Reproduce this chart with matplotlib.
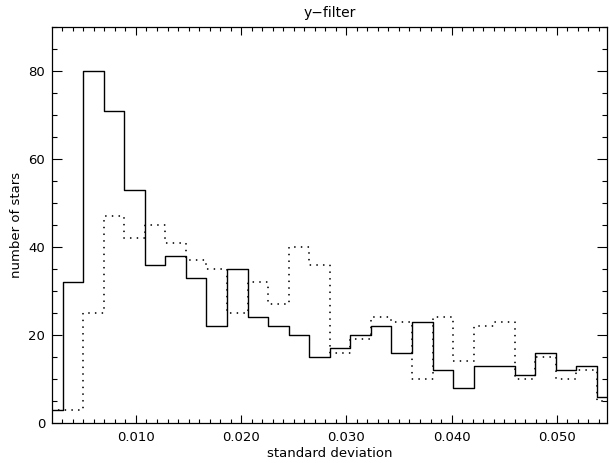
import numpy as np
import matplotlib.pyplot as plt
from matplotlib.ticker import MultipleLocator, FormatStrFormatter

# bin centres (standard deviation)
sigma = [0.00205, 0.00400, 0.00596, 0.00791, 0.00986, 0.01182, 0.01377,
         0.01573, 0.01768, 0.01963, 0.02159, 0.02354, 0.02549, 0.02745,
         0.02940, 0.03136, 0.03331, 0.03526, 0.03722, 0.03917, 0.04112,
         0.04308, 0.04503, 0.04698, 0.04894, 0.05089, 0.05285, 0.05480]

# solid histogram
n_solid = [3, 32, 80, 71, 53, 36, 38, 33, 22, 35, 24, 22, 20, 15,
           17, 20, 22, 16, 23, 12, 8, 13, 13, 11, 16, 12, 13, 6]

# dotted histogram
n_dotted = [3, 3, 25, 47, 42, 45, 41, 37, 35, 25, 32, 27, 40, 36,
            16, 19, 24, 23, 10, 24, 14, 22, 23, 10, 15, 10, 12, 5]

plt.rcParams['font.family'] = ['DejaVu Sans']

fig = plt.figure(figsize=(6.09, 4.63), dpi=100)
ax = fig.add_axes([52.3 / 609, 40 / 463, 555 / 609, 396 / 463])

ax.step(sigma, n_solid, where='mid', color='black', lw=1.0)
ax.step(sigma, n_dotted, where='mid', color='black', lw=1.3,
        linestyle=(0, (0.01, 3.7)), dash_capstyle='round')

ax.set_xlim(sigma[0], sigma[-1])
ax.set_ylim(0, 90)

ax.xaxis.set_major_locator(MultipleLocator(0.010))
ax.xaxis.set_minor_locator(MultipleLocator(0.001))
ax.xaxis.set_major_formatter(FormatStrFormatter('%.3f'))
ax.yaxis.set_major_locator(MultipleLocator(20))
ax.yaxis.set_minor_locator(MultipleLocator(5))

ax.tick_params(axis='x', which='major', direction='in', length=5.8, width=0.8,
               top=True, bottom=True, labelsize=9.5, pad=6)
ax.tick_params(axis='x', which='minor', direction='in', length=2.9, width=0.8,
               top=True, bottom=True)
ax.tick_params(axis='y', which='major', direction='in', length=7.5, width=0.8,
               left=True, right=True, labelsize=9.5, pad=5)
ax.tick_params(axis='y', which='minor', direction='in', length=3.7, width=0.8,
               left=True, right=True)
for s in ax.spines.values():
    s.set_linewidth(0.9)

ax.set_title('y\u2212filter', fontsize=10, pad=7)
ax.set_xlabel('standard deviation', fontsize=9.5, labelpad=2)
ax.set_ylabel('number of stars', fontsize=9.5, labelpad=4)

fig.savefig('out.png', dpi=100)
